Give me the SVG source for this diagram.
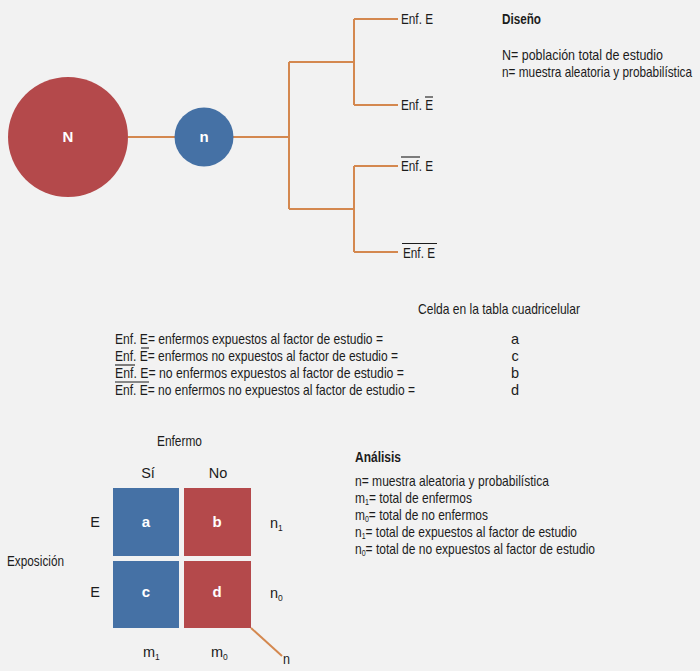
<svg xmlns="http://www.w3.org/2000/svg" width="700" height="671" viewBox="0 0 700 671">
<style>
text{font-family:"Liberation Sans",Arial,sans-serif;font-size:14.5px;fill:#1c1c1c}
.b{font-weight:bold}
.w{fill:#ffffff;font-weight:bold;font-size:15px}
.sub{font-size:8.5px}
.con{stroke:#d4884f;stroke-width:2;fill:none}
.bar{stroke:#1c1c1c;stroke-width:1.1}
.red{fill:#b4494b}
.blue{fill:#4571a5}
</style>
<rect width="700" height="671" fill="#f2f2f2"/>
<g id="connectors">
<path class="con" d="M128 137H175M233 137H289M289 62V209M289 62H354M289 209H354M354 19V105M354 19H398M354 105H398M354 166V252M354 166H398M354 252H398"/>
<path class="con" d="M251 628L282 656"/>
</g>
<g id="node-N"><circle class="red" cx="68" cy="137" r="60"/><text class="w" x="68" y="142" text-anchor="middle">N</text></g>
<g id="node-n"><circle class="blue" cx="204" cy="137" r="29.5"/><text class="w" x="204" y="142" text-anchor="middle">n</text></g>
<g id="leaf-1"><text x="401" y="24" textLength="32" lengthAdjust="spacingAndGlyphs">Enf. E</text></g>
<g id="leaf-2"><text x="401" y="110" textLength="32" lengthAdjust="spacingAndGlyphs">Enf. E</text><line class="bar" x1="425" y1="97" x2="433" y2="97"/></g>
<g id="leaf-3"><text x="401" y="171" textLength="32" lengthAdjust="spacingAndGlyphs">Enf. E</text><line class="bar" x1="401" y1="157" x2="420" y2="157"/></g>
<g id="leaf-4"><text x="403" y="258" textLength="32" lengthAdjust="spacingAndGlyphs">Enf. E</text><line class="bar" x1="402" y1="243.5" x2="437" y2="243.5"/></g>
<g id="design">
<text class="b" x="502" y="24" textLength="39" lengthAdjust="spacingAndGlyphs">Diseño</text>
<text x="502" y="60" textLength="161" lengthAdjust="spacingAndGlyphs">N= población total de estudio</text>
<text x="502" y="77" textLength="190" lengthAdjust="spacingAndGlyphs">n= muestra aleatoria y probabilística</text>
</g>
<g id="legend">
<text x="418" y="314" textLength="162" lengthAdjust="spacingAndGlyphs">Celda en la tabla cuadricelular</text>
<text x="115" y="344" textLength="268" lengthAdjust="spacingAndGlyphs">Enf. E= enfermos expuestos al factor de estudio =</text>
<text x="115" y="361" textLength="283" lengthAdjust="spacingAndGlyphs">Enf. E= enfermos no expuestos al factor de estudio =</text>
<line class="bar" x1="141" y1="348" x2="149" y2="348"/>
<text x="115" y="378" textLength="289" lengthAdjust="spacingAndGlyphs">Enf. E= no enfermos expuestos al factor de estudio =</text>
<line class="bar" x1="115" y1="365" x2="135" y2="365"/>
<text x="115" y="395" textLength="300" lengthAdjust="spacingAndGlyphs">Enf. E= no enfermos no expuestos al factor de estudio =</text>
<line class="bar" x1="115" y1="382" x2="149" y2="382"/>
<text x="515" y="344" text-anchor="middle">a</text>
<text x="515" y="361" text-anchor="middle">c</text>
<text x="515" y="378" text-anchor="middle">b</text>
<text x="515" y="395" text-anchor="middle">d</text>
</g>
<g id="table">
<text x="157" y="446" textLength="45" lengthAdjust="spacingAndGlyphs">Enfermo</text>
<text x="148" y="478" text-anchor="middle">Sí</text>
<text x="218" y="478" text-anchor="middle">No</text>
<text x="7" y="566" textLength="57" lengthAdjust="spacingAndGlyphs">Exposición</text>
<text x="95" y="527" text-anchor="middle">E</text>
<text x="95" y="597" text-anchor="middle">E</text>
<g id="cell-a"><rect class="blue" x="113" y="488" width="66" height="68"/><text class="w" x="146" y="527" text-anchor="middle">a</text></g>
<g id="cell-b"><rect class="red" x="184" y="488" width="67" height="68"/><text class="w" x="217" y="527" text-anchor="middle">b</text></g>
<g id="cell-c"><rect class="blue" x="113" y="561" width="66" height="67"/><text class="w" x="146" y="597" text-anchor="middle">c</text></g>
<g id="cell-d"><rect class="red" x="184" y="561" width="67" height="67"/><text class="w" x="217" y="597" text-anchor="middle">d</text></g>
<text x="270" y="528">n<tspan class="sub" dy="3">1</tspan></text>
<text x="270" y="598">n<tspan class="sub" dy="3">0</tspan></text>
<text x="143" y="657">m<tspan class="sub" dy="3">1</tspan></text>
<text x="211" y="657">m<tspan class="sub" dy="3">0</tspan></text>
<text x="283" y="664" textLength="7" lengthAdjust="spacingAndGlyphs">n</text>
</g>
<g id="analysis">
<text class="b" x="355" y="462" textLength="46" lengthAdjust="spacingAndGlyphs">Análisis</text>
<text x="355" y="486" textLength="194" lengthAdjust="spacingAndGlyphs">n= muestra aleatoria y probabilística</text>
<text x="355" y="503" textLength="117" lengthAdjust="spacingAndGlyphs">m<tspan class="sub" dy="2">1</tspan><tspan dy="-2">= total de enfermos</tspan></text>
<text x="355" y="520" textLength="133" lengthAdjust="spacingAndGlyphs">m<tspan class="sub" dy="2">0</tspan><tspan dy="-2">= total de no enfermos</tspan></text>
<text x="355" y="537" textLength="222" lengthAdjust="spacingAndGlyphs">n<tspan class="sub" dy="2">1</tspan><tspan dy="-2">= total de expuestos al factor de estudio</tspan></text>
<text x="355" y="554" textLength="240" lengthAdjust="spacingAndGlyphs">n<tspan class="sub" dy="2">0</tspan><tspan dy="-2">= total de no expuestos al factor de estudio</tspan></text>
</g>
</svg>
